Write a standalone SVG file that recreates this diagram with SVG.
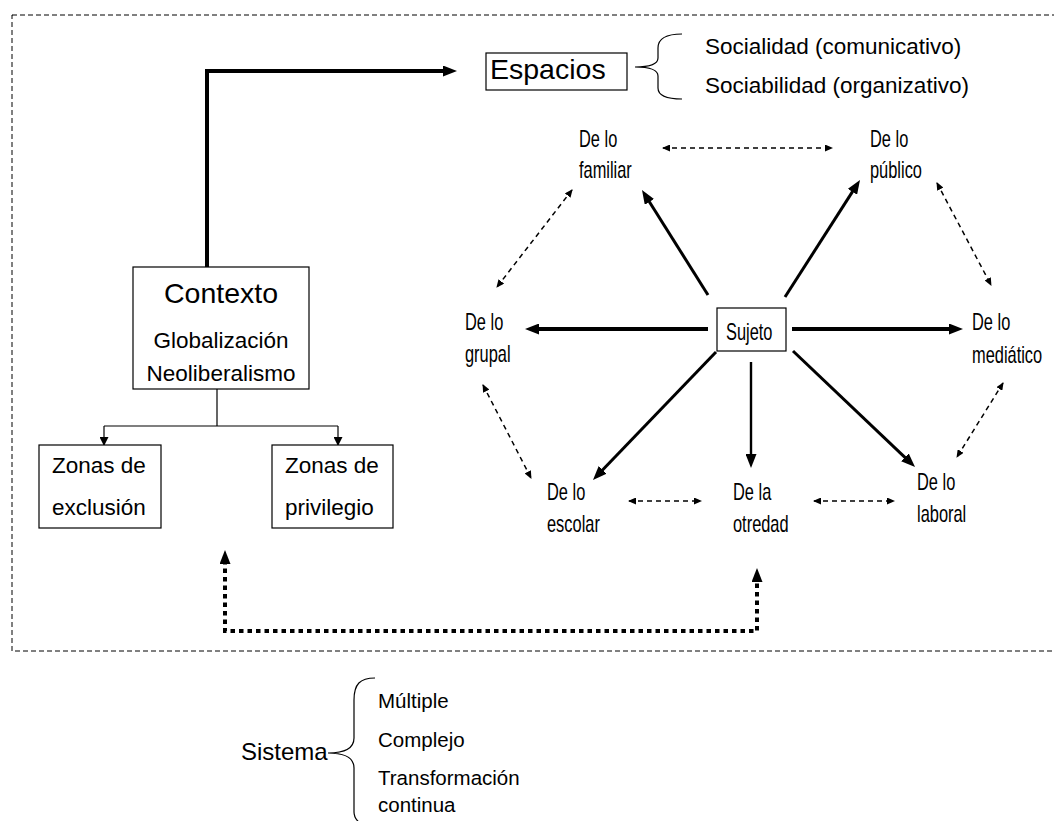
<svg xmlns="http://www.w3.org/2000/svg" width="1054" height="821" viewBox="0 0 1054 821">
<style>
  text { font-family: "Liberation Sans", Arial, sans-serif; fill: #000; }
  .box { fill: #fff; stroke: #000; stroke-width: 1.2; }
  .lbl { font-size: 23px; }
  .mid { font-size: 22.5px; }
  .item { font-size: 20.5px; }
  .thick { fill: none; stroke: #000; stroke-width: 4; }
  .solid3 { fill: none; stroke: #000; stroke-width: 3; }
  .solid2 { fill: none; stroke: #000; stroke-width: 2.4; }
  .thin { fill: none; stroke: #000; stroke-width: 1.2; }
  .dash { fill: none; stroke: #000; stroke-width: 1.5; stroke-dasharray: 5 4; }
  .dotted { fill: none; stroke: #000; stroke-width: 4; stroke-dasharray: 4.5 4; }
  .frame { fill: none; stroke: #000; stroke-width: 1; stroke-dasharray: 5 3; }
  .brace { fill: none; stroke: #000; stroke-width: 1.2; }
</style>
<defs>
  <marker id="big" viewBox="0 0 14 11" refX="4" refY="5.5" markerWidth="14" markerHeight="11" markerUnits="userSpaceOnUse" orient="auto-start-reverse">
    <path d="M0,0 L14,5.5 L0,11 z" fill="#000"/>
  </marker>
  <marker id="sm" viewBox="0 0 8 7" refX="7" refY="3.5" markerWidth="8" markerHeight="7" markerUnits="userSpaceOnUse" orient="auto-start-reverse">
    <path d="M0,0 L8,3.5 L0,7 z" fill="#000"/>
  </marker>
  <marker id="tree" viewBox="0 0 9 9" refX="8" refY="4.5" markerWidth="9" markerHeight="9" markerUnits="userSpaceOnUse" orient="auto">
    <path d="M0,0 L9,4.5 L0,9 z" fill="#000"/>
  </marker>
</defs>

<rect class="frame" x="12" y="15" width="1070" height="636"/>

<g id="connectors">
  <path class="thick" d="M207,267 V71 H447" marker-end="url(#big)"/>
  <path class="thin" d="M217,389 V426 M104,426 H338"/>
  <line class="thin" x1="104" y1="426" x2="104" y2="445" marker-end="url(#tree)"/>
  <line class="thin" x1="338" y1="426" x2="338" y2="445" marker-end="url(#tree)"/>
  <line class="solid3" x1="708" y1="295" x2="647.3" y2="198.5" marker-end="url(#big)"/>
  <line class="solid3" x1="785" y1="297" x2="854.6" y2="188.4" marker-end="url(#big)"/>
  <line class="thick" x1="708" y1="329" x2="535" y2="329" marker-end="url(#big)"/>
  <line class="thick" x1="792" y1="329" x2="953" y2="329" marker-end="url(#big)"/>
  <line class="solid3" x1="716" y1="352" x2="599.9" y2="472.8" marker-end="url(#big)"/>
  <line class="solid3" x1="793" y1="351" x2="907.8" y2="460.1" marker-end="url(#big)"/>
  <line class="solid2" x1="751" y1="362" x2="751" y2="458" marker-end="url(#big)"/>
  <line class="dash" x1="663" y1="148" x2="832" y2="148" marker-start="url(#sm)" marker-end="url(#sm)"/>
  <line class="dash" x1="572" y1="190" x2="497" y2="287" marker-start="url(#sm)" marker-end="url(#sm)"/>
  <line class="dash" x1="937" y1="183" x2="991" y2="285" marker-start="url(#sm)" marker-end="url(#sm)"/>
  <line class="dash" x1="483" y1="385" x2="531" y2="478" marker-start="url(#sm)" marker-end="url(#sm)"/>
  <line class="dash" x1="1003" y1="383" x2="957" y2="457" marker-start="url(#sm)" marker-end="url(#sm)"/>
  <line class="dash" x1="629" y1="501" x2="701" y2="501" marker-start="url(#sm)" marker-end="url(#sm)"/>
  <line class="dash" x1="814" y1="501" x2="894" y2="501" marker-start="url(#sm)" marker-end="url(#sm)"/>
  <path class="dotted" d="M225,560 V631 H757 V578" marker-start="url(#big)" marker-end="url(#big)"/>
</g>

<g id="contexto">
  <rect class="box" x="133" y="267" width="176" height="122"/>
  <text x="221" y="303" font-size="28.5" text-anchor="middle">Contexto</text>
  <text class="mid" x="221" y="348" text-anchor="middle">Globalización</text>
  <text class="mid" x="221" y="381" text-anchor="middle">Neoliberalismo</text>
</g>

<g id="zonas-exclusion">
  <rect class="box" x="39" y="445" width="122" height="83"/>
  <text class="mid" x="52" y="473">Zonas de</text>
  <text class="mid" x="52" y="515">exclusión</text>
</g>

<g id="zonas-privilegio">
  <rect class="box" x="272" y="445" width="121" height="83"/>
  <text class="mid" x="285" y="473">Zonas de</text>
  <text class="mid" x="285" y="515">privilegio</text>
</g>

<g id="espacios">
  <rect class="box" x="486" y="53" width="141" height="37"/>
  <text x="490" y="79" font-size="28.5">Espacios</text>
  <path class="brace" d="M682,34 C666,34 658,38 658,48 L658,58 C658,64 650,67 635,67 C650,67 658,70 658,76 L658,88 C658,96 666,99 682,99"/>
  <text class="mid" x="705" y="54">Socialidad (comunicativo)</text>
  <text class="mid" x="705" y="93">Sociabilidad (organizativo)</text>
</g>

<g id="sujeto">
  <rect class="box" x="717" y="308" width="69" height="43"/>
  <text class="lbl" transform="translate(726,340) scale(0.713,1)">Sujeto</text>
</g>

<g id="familiar">
  <text class="lbl" transform="translate(579,147) scale(0.713,1)">De lo</text>
  <text class="lbl" transform="translate(579,178) scale(0.713,1)">familiar</text>
</g>
<g id="publico">
  <text class="lbl" transform="translate(870,147) scale(0.713,1)">De lo</text>
  <text class="lbl" transform="translate(870,178) scale(0.713,1)">público</text>
</g>
<g id="grupal">
  <text class="lbl" transform="translate(465,330) scale(0.713,1)">De lo</text>
  <text class="lbl" transform="translate(465,362) scale(0.713,1)">grupal</text>
</g>
<g id="mediatico">
  <text class="lbl" transform="translate(972,330) scale(0.713,1)">De lo</text>
  <text class="lbl" transform="translate(972,363) scale(0.713,1)">mediático</text>
</g>
<g id="escolar">
  <text class="lbl" transform="translate(547,500) scale(0.713,1)">De lo</text>
  <text class="lbl" transform="translate(547,532) scale(0.713,1)">escolar</text>
</g>
<g id="otredad">
  <text class="lbl" transform="translate(733,500) scale(0.713,1)">De la</text>
  <text class="lbl" transform="translate(733,532) scale(0.713,1)">otredad</text>
</g>
<g id="laboral">
  <text class="lbl" transform="translate(917,490) scale(0.713,1)">De lo</text>
  <text class="lbl" transform="translate(917,522) scale(0.713,1)">laboral</text>
</g>

<g id="sistema">
  <text x="241" y="760" font-size="24">Sistema</text>
  <path class="brace" d="M375,678 C360,678 354,684 354,700 L354,738 C354,748 345,753 328,753 C345,753 354,758 354,768 L354,812 C354,817 356,820 360,823"/>
  <text class="item" x="378" y="708">Múltiple</text>
  <text class="item" x="378" y="747">Complejo</text>
  <text class="item" x="378" y="785">Transformación</text>
  <text class="item" x="378" y="812">continua</text>
</g>
</svg>
